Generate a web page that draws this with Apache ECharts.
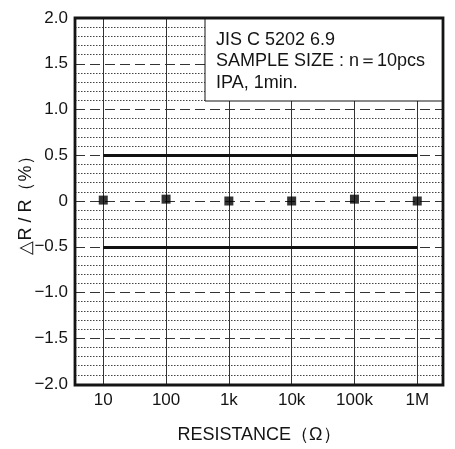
<!DOCTYPE html>
<html>
<head>
<meta charset="utf-8">
<script src="https://cdn.jsdelivr.net/npm/echarts@6/dist/echarts.min.js"></script>
<style>
html,body{margin:0;padding:0;background:#fff;}
#chart{width:455px;height:449px;}
</style>
</head>
<body>
<div id="chart"></div>
<script>
// ---- data ----
const resistances = [10, 100, 1000, 10000, 100000, 1000000];
const xTickLabels = ['10', '100', '1k', '10k', '100k', '1M'];
const deltaR = [0.01, 0.02, 0.0, 0.0, 0.02, 0.0];
const yTickValues = [-2, -1.5, -1, -0.5, 0, 0.5, 1, 1.5, 2];
const yTickLabels = ['\u22122.0', '\u22121.5', '\u22121.0', '\u22120.5', '0', '0.5', '1.0', '1.5', '2.0'];
const specLimits = [0.5, -0.5];
const noteLines = ['JIS C 5202 6.9', 'SAMPLE SIZE : n\uFF1D10pcs', 'IPA, 1min.'];
const xName = 'RESISTANCE\uFF08\u03A9\uFF09';
const yName = '\u25B3R / R\uFF08%\uFF09';

// ---- layout ----
const W = 455, H = 449;
const G = { left: 75, right: 12, top: 18, bottom: 64 };
const font = '"Liberation Sans", Arial, Helvetica, sans-serif';
const ink = '#141414';

const xs = resistances.map(r => Math.log10(r));
const points = xs.map((x, i) => [x, deltaR[i]]);

const chart = echarts.init(document.getElementById('chart'), null, { renderer: 'canvas' });

const boxX = 205, boxY = G.top, boxW = W - G.right - 205, boxH = 83;

chart.setOption({
  animation: false,
  backgroundColor: '#fff',
  grid: { left: G.left, right: G.right, top: G.top, bottom: G.bottom, show: false },
  xAxis: {
    type: 'value',
    min: 0.55,
    max: 6.41,
    axisLine: { show: false },
    axisTick: { show: false },
    splitLine: { show: false },
    axisLabel: {
      customValues: xs,
      formatter: v => {
        const i = xs.findIndex(x => Math.abs(x - v) < 1e-6);
        return i >= 0 ? xTickLabels[i] : '';
      },
      fontFamily: font, fontSize: 17, color: ink, margin: 8
    },
    name: xName,
    nameLocation: 'middle',
    nameGap: 42,
    nameMoveOverlap: false,
    nameTextStyle: { fontFamily: font, fontSize: 18, color: ink }
  },
  yAxis: {
    type: 'value',
    min: -2,
    max: 2,
    interval: 0.5,
    axisLine: { show: false },
    axisTick: { show: false },
    axisLabel: {
      formatter: v => {
        const i = yTickValues.findIndex(t => Math.abs(t - v) < 1e-6);
        return i >= 0 ? yTickLabels[i] : '';
      },
      fontFamily: font, fontSize: 17, color: ink, margin: 7
    },
    splitLine: { show: true, lineStyle: { color: '#333', width: 1.2, type: [10, 5] } },
    minorTick: { show: false, splitNumber: 5 },
    minorSplitLine: { show: true, lineStyle: { color: '#444', width: 1, type: [1.5, 1.5] } },
    name: yName,
    nameLocation: 'middle',
    nameGap: 40,
    nameMoveOverlap: false,
    nameTextStyle: { fontFamily: font, fontSize: 18, color: ink }
  },
  series: [
    {
      type: 'scatter',
      data: points,
      symbol: 'rect',
      symbolSize: 9,
      itemStyle: { color: '#000' },
      z: 5,
      markLine: {
        silent: true,
        symbol: 'none',
        label: { show: false },
        lineStyle: { color: '#333', width: 1, type: 'solid' },
        data: xs.map(x => ({ xAxis: x }))
      }
    },
    {
      type: 'line',
      data: [],
      markLine: {
        silent: true,
        symbol: 'none',
        label: { show: false },
        lineStyle: { color: '#111', width: 3, type: 'solid' },
        data: specLimits.map(v => [{ coord: [xs[0], v] }, { coord: [xs[xs.length - 1], v] }])
      }
    }
  ],
  graphic: [
    {
      type: 'rect', z: 100,
      shape: { x: boxX, y: boxY, width: boxW, height: boxH },
      style: { fill: '#fff', stroke: ink, lineWidth: 1 }
    },
    ...noteLines.map((t, i) => ({
      type: 'text', z: 101,
      x: 216, y: 40 + i * 21.5,
      style: { text: t, fill: ink, font: '18px ' + font, textVerticalAlign: 'middle', verticalAlign: 'middle' }
    })),
    {
      type: 'rect', z: 102,
      shape: { x: G.left, y: G.top, width: W - G.left - G.right, height: H - G.top - G.bottom },
      style: { fill: null, stroke: ink, lineWidth: 2.8 }
    }
  ]
});
</script>
</body>
</html>
